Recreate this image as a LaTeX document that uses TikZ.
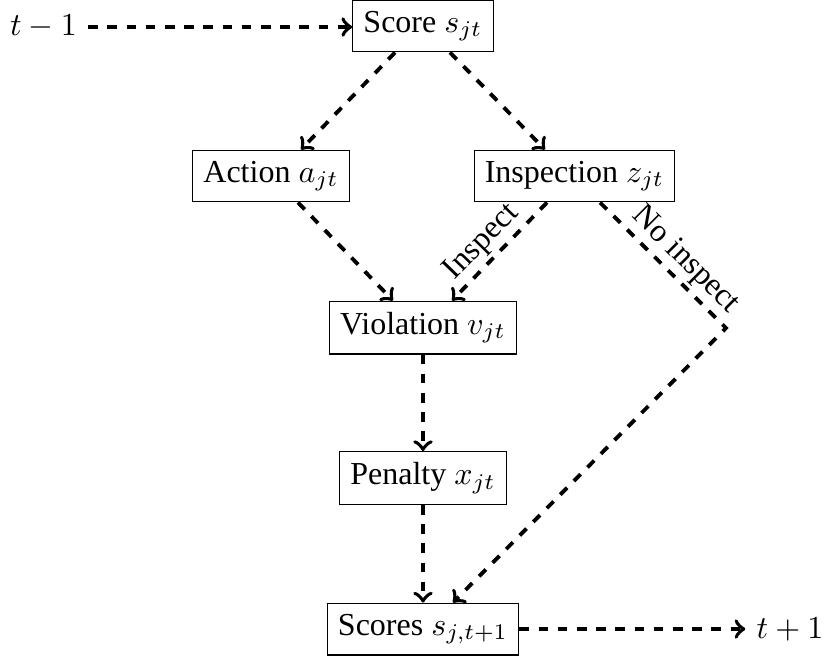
\documentclass[tikz,border=0pt]{standalone}
\usepackage{fontspec}
\setmainfont{Liberation Serif}
\usetikzlibrary{calc}
\begin{document}
\begin{tikzpicture}[x=0.3125pt,y=-0.3125pt,
  box/.style={draw,inner sep=0.3333em},
  flow/.style={->,very thick,dashed},
  lbl/.style={sloped,above,inner sep=1pt}]
\useasboundingbox (0,0) rectangle (833,657);
\node[box] (s) at (423,26) {Score $s_{jt}$};
\node[box] (a) at (271,176) {Action $a_{jt}$};
\node[box] (z) at (574.5,176) {Inspection $z_{jt}$};
\node[box] (v) at (423,327.5) {Violation $v_{jt}$};
\node[box] (p) at (423,478) {Penalty $x_{jt}$};
\node[box] (n) at (423,629) {Scores $s_{j,t+1}$};
\node (tm) at (43.5,27) {$t-1$};
\node (tp) at (790,629) {$t+1$};
\coordinate (c) at (726,328);

\draw[flow] (tm) -- (tm -| s.west);
\draw[flow] ($(s.south)+(-28,0)$) -- ($(a.north)+(30,0)$);
\draw[flow] ($(s.south)+(27,0)$) -- ($(z.north)+(-29.5,0)$);
\draw[flow] ($(a.south)+(27,0)$) -- ($(v.north)+(-30,0)$);
\draw[flow] ($(z.south)+(-27.5,0)$) -- node[lbl,pos=0.54]{Inspect} ($(v.north)+(29,0)$);
\draw[flow] ($(z.south)+(25.5,0)$) -- node[lbl,pos=0.57]{No inspect} (c) -- ($(n.north)+(30,0)$);
\draw[flow] (v) -- (p);
\draw[flow] (p) -- (n);
\draw[flow] (n) -- (tp);
\end{tikzpicture}
\end{document}
